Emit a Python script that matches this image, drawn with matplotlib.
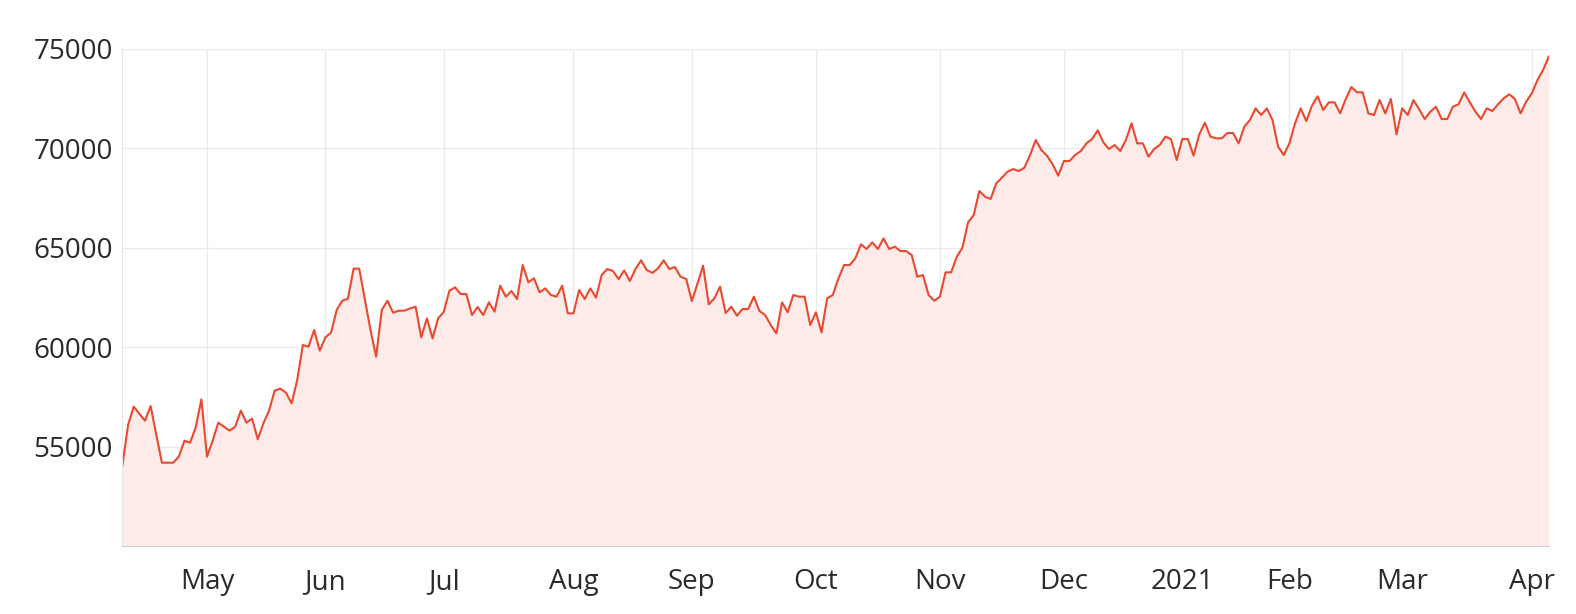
import matplotlib.pyplot as plt

# values, one per trading day (Apr 2020 - Apr 2021)
prices = [
    54075, 56087, 57010, 56650, 56305, 57043, 55600, 54192, 54192, 54192,
    54494, 55299, 55198, 55970, 57378, 54494, 55299, 56204, 56000, 55802,
    56003, 56808, 56204, 56406, 55366, 56171, 56808, 57814, 57915, 57714,
    57177, 58350,
    60111, 60027, 60865, 59825, 60496, 60731, 61871, 62341, 62442, 63951,
    63951, 62400, 60865, 59524, 61871, 62341, 61737, 61838, 61838, 61950,
    62039, 60496, 61452, 60446, 61452, 61787, 62844, 63012, 62676, 62676,
    61620, 62020,
    61619, 62257, 61787, 63095, 62542, 62827, 62424, 64135, 63263, 63464,
    62760, 62961, 62625, 62542, 63095, 61703, 61703, 62877, 62424, 62961,
    62491, 63632, 63933, 63833, 63430, 63866, 63330, 63933, 64370, 63883,
    63740,
    63967, 64370, 63933, 64034, 63548, 63430, 62324, 63200, 64101, 62156,
    62457, 63045, 61720, 62039, 61586, 61921, 61921, 62542, 61820, 61619,
    61116, 60697, 62257, 61754, 62625, 62542, 62542, 61116, 61754, 60747,
    62458, 62625, 63450,
    64134, 64134, 64469, 65173, 64939, 65274, 64939, 65475, 64939, 65056,
    64838, 64838, 64637, 63547, 63631, 62625, 62339, 62541, 63765, 63765,
    64553, 65006, 66280, 66649, 67857, 67571, 67454, 68242, 68527, 68829,
    68963, 68863,
    69030, 69668, 70422, 69919, 69634, 69200, 68628, 69366, 69366, 69668,
    69869, 70254, 70472, 70908, 70305, 69969, 70170, 69869, 70422, 71261,
    70254, 70254, 69584, 69969, 70170, 70590, 70472, 69416, 70472, 70472,
    69634, 70700, 71290,
    70590, 70506, 70506, 70774, 70774, 70254, 71093, 71428, 72015, 71680,
    72015, 71428, 70087, 69667, 70254, 71260, 72015, 71378, 72149, 72619,
    71931, 72317, 72317, 71763, 72485, 73088, 72820, 72820, 71763, 71680,
    72434, 71763,
    72484, 70707, 72015, 71679, 72434, 71981, 71478, 71847, 72099, 71478,
    71478, 72099, 72216, 72820, 72317, 71847, 71478, 72015, 71880, 72216,
    72518, 72719, 72484, 71763, 72350, 72770, 73440, 73943, 74614,
]

# first trading day of each month (index into prices)
month_idx = [15, 36, 57, 80, 101, 123, 145, 167, 188, 207, 227, 250]
month_labels = ["May", "Jun", "Jul", "Aug", "Sep", "Oct", "Nov", "Dec",
                "2021", "Feb", "Mar", "Apr"]
y_ticks = [55000, 60000, 65000, 70000, 75000]

plt.rcParams["font.family"] = ["Open Sans", "DejaVu Sans"]

fig = plt.figure(figsize=(15.76, 6.14), dpi=100)
ax = fig.add_axes([0.0777, 0.1107, 0.905, 0.8095])

x = list(range(len(prices)))
ax.fill_between(x, prices, 50000, color="#fcebe8", linewidth=0)
ax.plot(x, prices, color="#e8492f", linewidth=1.5)

ax.set_xlim(0, len(prices) - 1)
ax.set_ylim(50000, 75000)

ax.set_xticks(month_idx)
ax.set_xticklabels(month_labels)
ax.set_yticks(y_ticks)
ax.set_yticklabels([str(v) for v in y_ticks])

ax.grid(True, color="#ebebeb", linewidth=1)
ax.set_axisbelow(True)

ax.tick_params(length=0, labelsize=20, colors="#2b2b2b")
ax.tick_params(axis="x", pad=16)
ax.tick_params(axis="y", pad=7)

for side in ["top", "right"]:
    ax.spines[side].set_visible(False)
ax.spines["left"].set_color("#e6e6e6")
ax.spines["bottom"].set_color("#d0d0d0")

plt.savefig("out.png", dpi=100)
plt.close()
